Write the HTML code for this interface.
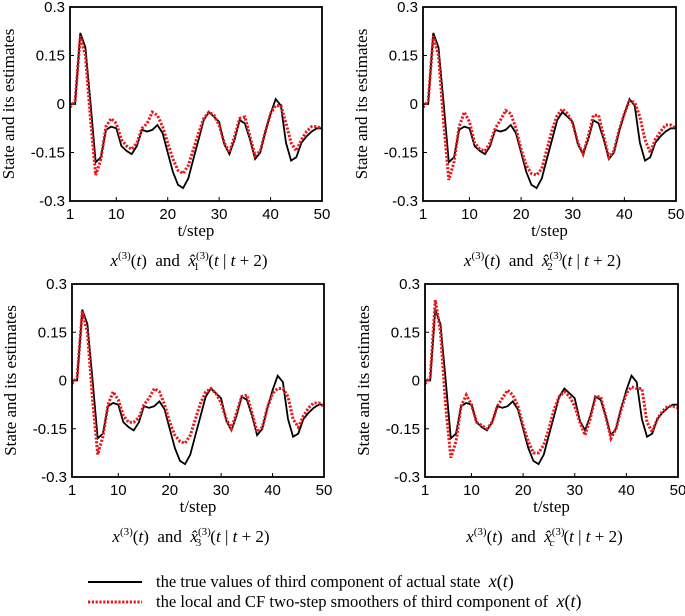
<!DOCTYPE html>
<html><head><meta charset="utf-8"><style>
body{margin:0;background:#fff;width:685px;height:616px;overflow:hidden}
svg{display:block}
.tk{font-family:"Liberation Sans",sans-serif;font-size:15px;fill:#000}
.sf{font-family:"Liberation Serif",serif;fill:#000}
</style></head><body>
<svg id="c" width="685" height="616"></svg>
<script>
const steps = Array.from({length:50},(_, i)=>i+1);
const trueVals = [0,0,0.22,0.175,0,-0.18,-0.165,-0.08,-0.07,-0.075,-0.13,-0.145,-0.155,-0.13,-0.08,-0.085,-0.08,-0.065,-0.09,-0.15,-0.21,-0.25,-0.26,-0.23,-0.17,-0.11,-0.05,-0.025,-0.04,-0.055,-0.125,-0.155,-0.11,-0.05,-0.06,-0.11,-0.17,-0.15,-0.085,-0.03,0.015,-0.005,-0.12,-0.175,-0.165,-0.12,-0.1,-0.085,-0.075,-0.075];
const est1 = [-0.01,0.01,0.21,0.15,-0.05,-0.22,-0.17,-0.07,-0.045,-0.06,-0.11,-0.13,-0.14,-0.12,-0.075,-0.06,-0.025,-0.035,-0.07,-0.12,-0.17,-0.205,-0.215,-0.19,-0.14,-0.09,-0.045,-0.025,-0.035,-0.065,-0.12,-0.15,-0.1,-0.045,-0.04,-0.1,-0.16,-0.145,-0.085,-0.03,-0.005,-0.005,-0.06,-0.12,-0.145,-0.11,-0.085,-0.07,-0.07,-0.075];
const est2 = [-0.01,0.01,0.21,0.15,-0.06,-0.235,-0.18,-0.07,-0.025,-0.055,-0.12,-0.14,-0.145,-0.12,-0.075,-0.05,-0.02,-0.03,-0.075,-0.14,-0.19,-0.215,-0.22,-0.2,-0.14,-0.08,-0.035,-0.015,-0.03,-0.06,-0.12,-0.155,-0.1,-0.035,-0.035,-0.1,-0.165,-0.145,-0.08,-0.03,0.01,0.005,-0.04,-0.11,-0.15,-0.11,-0.085,-0.065,-0.065,-0.075];
const est3 = [-0.01,0.01,0.215,0.15,-0.06,-0.23,-0.175,-0.075,-0.035,-0.06,-0.11,-0.13,-0.13,-0.115,-0.075,-0.055,-0.025,-0.035,-0.075,-0.13,-0.17,-0.19,-0.195,-0.17,-0.12,-0.07,-0.035,-0.025,-0.04,-0.07,-0.12,-0.15,-0.1,-0.05,-0.045,-0.1,-0.16,-0.145,-0.085,-0.04,-0.025,-0.025,-0.05,-0.12,-0.145,-0.11,-0.085,-0.07,-0.07,-0.08];
const est4 = [-0.01,0.01,0.25,0.15,-0.08,-0.24,-0.19,-0.08,-0.045,-0.075,-0.13,-0.14,-0.15,-0.13,-0.08,-0.055,-0.03,-0.045,-0.08,-0.14,-0.19,-0.225,-0.225,-0.2,-0.15,-0.09,-0.05,-0.035,-0.05,-0.08,-0.13,-0.17,-0.12,-0.05,-0.05,-0.11,-0.18,-0.15,-0.09,-0.04,-0.02,-0.025,-0.025,-0.13,-0.16,-0.12,-0.095,-0.08,-0.08,-0.085];
const yTicks = [0.3,0.15,0,-0.15,-0.3];
const yTickLabels = ["0.3","0.15","0","-0.15","-0.3"];
const xTicks = [1,10,20,30,40,50];
const subs = ["1","2","3","c"];
const ests = [est1,est2,est3,est4];
const NS="http://www.w3.org/2000/svg";
const svg=document.getElementById('c');
function mk(tag,attrs,parent){const e=document.createElementNS(NS,tag);for(const k in attrs)e.setAttribute(k,attrs[k]);(parent||svg).appendChild(e);return e;}
const boxes=[[70,7,322,201],[423,7,676,201],[72,284,324,477],[425,284,678,477]];
boxes.forEach((b,pi)=>{
  const [x0,y0,x1,y1]=b;
  const g=mk('g',{});
  
  
  const sx=t=>x0+(t-1)/49*(x1-x0);
  const sy=v=>y0+(0.3-v)/0.6*(y1-y0);
  const clip=mk('clipPath',{id:'cl'+pi},g);
  mk('rect',{x:x0,y:y0,width:x1-x0,height:y1-y0},clip);
  yTicks.forEach((v,i)=>{
    mk('line',{x1:x0,x2:x0+4,y1:sy(v),y2:sy(v),stroke:'#000','stroke-width':1},g);
    const t=mk('text',{x:x0-5,y:sy(v)+5,'text-anchor':'end',class:'tk'},g);
    
    
    t.textContent=yTickLabels[i];
  });
  xTicks.forEach(v=>{
    mk('line',{x1:sx(v),x2:sx(v),y1:y1,y2:y1-4,stroke:'#000','stroke-width':1},g);
    const t=mk('text',{x:sx(v),y:y1+18,'text-anchor':'middle',class:'tk'},g);
    
    
    t.textContent=v;
  });
  const pts=a=>a.map((v,i)=>sx(steps[i]).toFixed(1)+','+sy(v).toFixed(1)).join(' ');
  const tl=mk('polyline',{points:pts(trueVals),fill:'none',stroke:'#000','stroke-width':1.8,'clip-path':'url(#cl'+pi+')'},g);
  
  
  const el=mk('polyline',{points:pts(ests[pi]),fill:'none',stroke:'#e8191b','stroke-width':3,'stroke-dasharray':'2.2 1.6','clip-path':'url(#cl'+pi+')'},g);
  
  
  const fr=mk('rect',{x:x0,y:y0,width:x1-x0,height:y1-y0,fill:'none',stroke:'#000','stroke-width':1.8},g);
  
  
  const yt=mk('text',{transform:`translate(${x0-56},${(y0+y1)/2}) rotate(-90)`,'text-anchor':'middle',class:'sf','font-size':'17px'},g);
  
  
  yt.textContent='State and its estimates';
  const xt=mk('text',{x:(x0+x1)/2,y:y1+35,'text-anchor':'middle',class:'sf','font-size':'17px'},g);
  
  
  xt.textContent='t/step';
  const cap=mk('text',{x:(x0+x1)/2-7,y:y1+65,'text-anchor':'middle',class:'sf','font-size':'17px'},g);
  
  
  cap.innerHTML=`<tspan font-style="italic">x</tspan><tspan font-size="11" dy="-7">(3)</tspan><tspan dy="7">(</tspan><tspan font-style="italic">t</tspan><tspan>)&#160;&#160;and&#160;&#160;</tspan><tspan font-style="italic">x̂</tspan><tspan font-size="11" dy="-7">(3)</tspan><tspan font-size="11" dx="-15" dy="11" font-style="${subs[pi]==='c'?'italic':'normal'}">${subs[pi]}</tspan><tspan dx="9" dy="-4">(</tspan><tspan font-style="italic">t</tspan><tspan>&#160;|&#160;</tspan><tspan font-style="italic">t</tspan><tspan>&#160;+&#160;2)</tspan>`;
});
const lg=mk('g',{});


mk('line',{x1:88,x2:142,y1:582,y2:582,stroke:'#000','stroke-width':2},lg);
mk('line',{x1:88,x2:142,y1:602,y2:602,stroke:'#e8191b','stroke-width':3,'stroke-dasharray':'2.2 1.6'},lg);
const l1=mk('text',{x:156,y:587,class:'sf','font-size':'16.6px'},lg);


l1.innerHTML='the true values of third component of actual state&#160;&#160;<tspan font-style="italic" font-size="18">x</tspan><tspan font-size="18">(</tspan><tspan font-style="italic" font-size="18">t</tspan><tspan font-size="18">)</tspan>';
const l2=mk('text',{x:156,y:607,class:'sf','font-size':'16.6px'},lg);


l2.innerHTML='the local and CF two-step smoothers of third component of&#160;&#160;<tspan font-style="italic" font-size="18">x</tspan><tspan font-size="18">(</tspan><tspan font-style="italic" font-size="18">t</tspan><tspan font-size="18">)</tspan>';
</script>
</body></html>
